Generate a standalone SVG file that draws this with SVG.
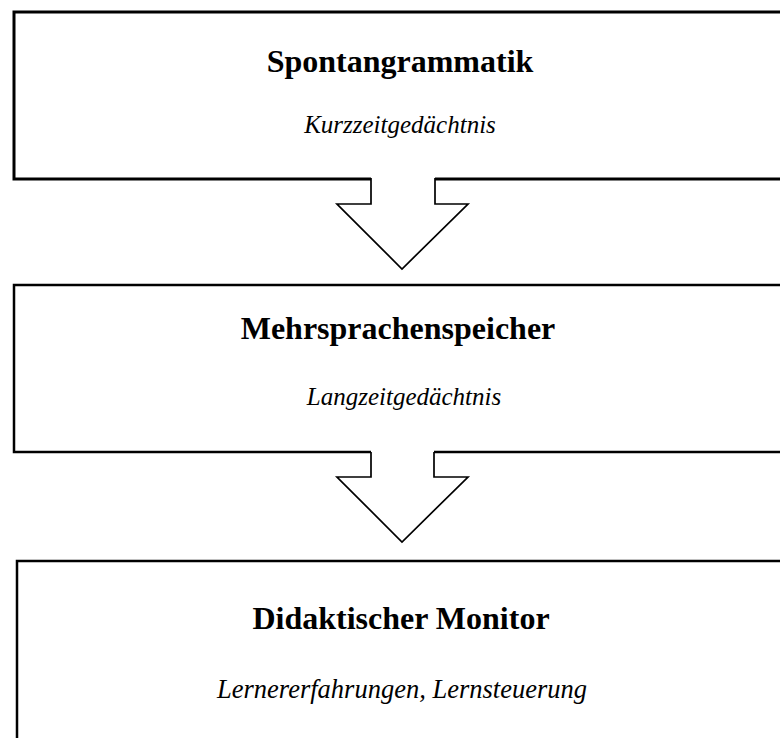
<svg xmlns="http://www.w3.org/2000/svg" width="780" height="738" viewBox="0 0 780 738">
  <style>
    .box { fill: #ffffff; stroke: #000000; stroke-width: 2.5; }
    .title { font-family: "Liberation Serif", "Times New Roman", serif; font-weight: bold; font-size: 32px; fill: #000000; text-anchor: middle; }
    .sub { font-family: "Liberation Serif", "Times New Roman", serif; font-style: italic; font-size: 25px; fill: #000000; text-anchor: middle; }
    .arrow-fill { fill: #ffffff; stroke: none; }
    .arrow-line { fill: none; stroke: #000000; stroke-width: 1.7; stroke-linejoin: miter; }
  </style>
  <rect width="780" height="738" fill="#ffffff"/>

  <g id="spontangrammatik">
    <rect class="box" x="14" y="12" width="800" height="167" style="stroke-width:3"/>
    <text class="title" x="400" y="72">Spontangrammatik</text>
    <text class="sub" x="400" y="133">Kurzzeitgedächtnis</text>
  </g>

  <g id="mehrsprachenspeicher">
    <rect class="box" x="14" y="285" width="800" height="167"/>
    <text class="title" x="398" y="339">Mehrsprachenspeicher</text>
    <text class="sub" x="404" y="405">Langzeitgedächtnis</text>
  </g>

  <g id="didaktischer-monitor">
    <rect class="box" x="17" y="561" width="800" height="200"/>
    <text class="title" x="401" y="629">Didaktischer Monitor</text>
    <text class="sub" x="402" y="698" style="font-size:26.5px">Lernererfahrungen, Lernsteuerung</text>
  </g>

  <g id="connectors">
    <g id="arrow-1">
      <polygon class="arrow-fill" points="371,176 371,204 337,204 402,269 468,204 435,204 435,176"/>
      <polyline class="arrow-line" points="371,178 371,204 337,204 402,269 468,204 435,204 435,178"/>
    </g>
    <g id="arrow-2">
      <polygon class="arrow-fill" points="371,450 371,477 337,477 402,542 468,477 434,477 434,450"/>
      <polyline class="arrow-line" points="371,452 371,477 337,477 402,542 468,477 434,477 434,452"/>
    </g>
  </g>
</svg>
